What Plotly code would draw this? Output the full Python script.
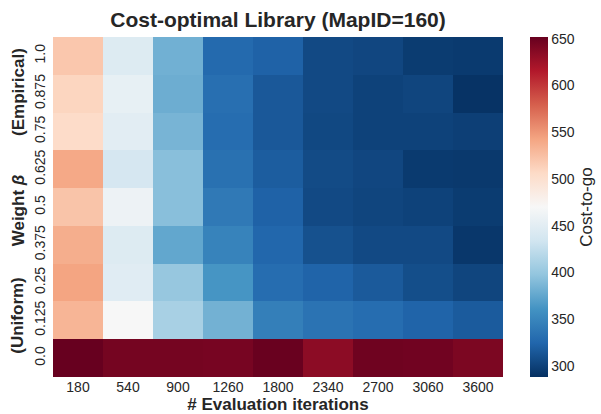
import plotly.graph_objects as go

iterations = ["180", "540", "900", "1260", "1800", "2340", "2700", "3060", "3600"]
weights = ["0.0", "0.125", "0.25", "0.375", "0.5", "0.625", "0.75", "0.875", "1.0"]

# rows follow `weights` (bottom to top), columns follow `iterations`
cost_w000 = [652, 645, 645, 644, 651, 634, 648, 647, 642]
cost_w0125 = [532, 470, 410, 383, 345, 335, 330, 323, 317]
cost_w025 = [543, 448, 400, 362, 330, 323, 316, 308, 302]
cost_w0375 = [537, 445, 375, 348, 325, 310, 305, 305, 293]
cost_w050 = [522, 460, 393, 340, 322, 305, 302, 300, 296]
cost_w0625 = [540, 438, 393, 333, 318, 306, 303, 295, 294]
cost_w075 = [505, 450, 385, 330, 315, 304, 300, 300, 298]
cost_w0875 = [510, 455, 380, 332, 315, 305, 300, 302, 290]
cost_w100 = [520, 445, 382, 328, 322, 305, 303, 296, 295]

z = [cost_w000, cost_w0125, cost_w025, cost_w0375, cost_w050,
     cost_w0625, cost_w075, cost_w0875, cost_w100]

cb_ticks = [300, 350, 400, 450, 500, 550, 600, 650]

rdbu_r = ["#053061", "#2166ac", "#4393c3", "#92c5de", "#d1e5f0", "#f7f7f7",
          "#fddbc7", "#f4a582", "#d6604d", "#b2182b", "#67001f"]
colorscale = [[i / 10, c] for i, c in enumerate(rdbu_r)]

FONT = "Liberation Sans, Arial, sans-serif"
TXT = "#262626"

fig = go.Figure(go.Heatmap(
    x=iterations, y=weights, z=z,
    colorscale=colorscale, zmin=288, zmax=652,
    xgap=0, ygap=0,
    colorbar=dict(
        x=1.038, xanchor="left", y=0.5, yanchor="middle", len=1, ypad=0,
        thickness=18, outlinewidth=0, ticks="",
        tickvals=cb_ticks, tickfont=dict(size=14, color=TXT, family=FONT),
        title=dict(text="Cost-to-go", side="right",
                   font=dict(size=17, color=TXT, family=FONT)),
    ),
))

fig.update_layout(
    width=601, height=414,
    margin=dict(l=53, r=98, t=37, b=37, autoexpand=False),
    paper_bgcolor="white", plot_bgcolor="white",
    font=dict(family=FONT, color=TXT),
    title=dict(text="<b>Cost-optimal Library (MapID=160)</b>",
               x=(53 + 225) / 601, xanchor="center", y=0.952, yanchor="middle",
               font=dict(size=21, color=TXT, family=FONT)),
    xaxis=dict(showgrid=False, zeroline=False, ticks="", automargin=False,
               tickfont=dict(size=14, color=TXT),
               title=dict(text="<b># Evaluation iterations</b>", standoff=2,
                          font=dict(size=17, color=TXT))),
    yaxis=dict(showgrid=False, zeroline=False, ticks="", tickangle=-90, automargin=False,
               tickfont=dict(size=14, color=TXT), ticklabelstandoff=4),
)

for txt, yy in [("<b>(Empirical)</b>", 0.838), ("<b>Weight <i>β</i></b>", 0.49),
                ("<b>(Uniform)</b>", 0.18)]:
    fig.add_annotation(text=txt, xref="paper", yref="paper", x=-0.078, y=yy,
                       textangle=-90, showarrow=False, xanchor="center", yanchor="middle",
                       font=dict(size=17, color=TXT, family=FONT))

fig.write_html("out.html", config={"displayModeBar": False},
               post_script="document.body.style.margin='0px';")
